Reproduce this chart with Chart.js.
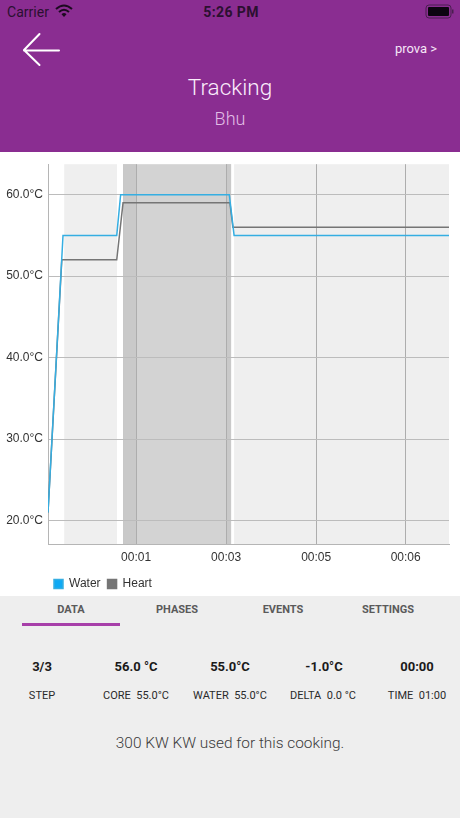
<!DOCTYPE html>
<html>
<head>
<meta charset="utf-8">
<title>Tracking</title>
<script src="https://cdn.jsdelivr.net/npm/chart.js@4"></script>
<style>
    html, body { margin: 0; padding: 0; }
    body { width: 460px; height: 818px; position: relative; overflow: hidden; background: #eeeeee; font-family: Roboto, sans-serif; }
    .t { position: absolute; white-space: pre; line-height: 1; transform: translate(-50%, -50%); }
    #header { position: absolute; left: 0; top: 0; width: 460px; height: 152px; background: #8a2d91; }
    #chart-box { position: absolute; left: 0; top: 152px; width: 460px; height: 444px; background: #fff; }
    #tab-line { position: absolute; left: 22px; top: 623px; width: 98px; height: 3px; background: #a73fa9; }
    .tab { font-size: 11px; font-weight: 700; color: #5a5a5a; top: 609px; }
    .big { font-size: 13px; font-weight: 700; color: #1a1a1a; top: 666px; }
    .small { font-size: 11px; color: #2a2a2a; top: 695px; }
</style>
</head>
<body>
<div id="header">
    <div class="t" style="left:28px;top:12px;font-size:14px;color:#2b1030">Carrier</div>
    <svg style="position:absolute;left:55px;top:4px" width="18" height="14" viewBox="0 0 18 14">
        <path d="M1 5 Q9 -2 17 5" fill="none" stroke="#1c0a20" stroke-width="2"/>
        <path d="M4 8 Q9 3.5 14 8" fill="none" stroke="#1c0a20" stroke-width="2"/>
        <path d="M6.5 10.2 Q9 8 11.5 10.2 L9 13 Z" fill="#1c0a20"/>
    </svg>
    <div class="t" style="left:231px;top:12px;font-size:14px;font-weight:700;color:#2b1030;letter-spacing:.4px">5:26 PM</div>
    <svg style="position:absolute;left:425px;top:4px" width="29" height="15" viewBox="0 0 29 15">
        <rect x="1" y="1" width="25" height="13" rx="3" fill="none" stroke="#4a1f50" stroke-width="1"/>
        <rect x="3" y="3" width="21" height="9" rx="1" fill="#0c0410"/>
        <rect x="27" y="5.5" width="1.5" height="4" fill="#4a1f50"/>
    </svg>
    <svg style="position:absolute;left:20px;top:30px" width="44" height="40" viewBox="0 0 44 40">
        <path d="M19.5 4 L4 20 L19.5 35 M4 20.5 L39 20.5" fill="none" stroke="#fff" stroke-width="2" stroke-linecap="round" stroke-linejoin="round"/>
    </svg>
    <div class="t" style="left:416px;top:48px;font-size:13px;color:#f6e6f7">prova &gt;</div>
    <div class="t" style="left:230px;top:87px;font-size:22.5px;font-weight:300;color:#fbeefc">Tracking</div>
    <div class="t" style="left:230px;top:119px;font-size:18px;font-weight:300;color:#e2bde6">Bhu</div>
</div>
<div id="chart-box"><canvas id="cooking-chart"></canvas></div>
<div class="t tab" style="left:71px">DATA</div>
<div class="t tab" style="left:177px">PHASES</div>
<div class="t tab" style="left:283px">EVENTS</div>
<div class="t tab" style="left:388px">SETTINGS</div>
<div id="tab-line"></div>
<div class="t big" style="left:42px">3/3</div>
<div class="t big" style="left:136px">56.0 °C</div>
<div class="t big" style="left:230px">55.0°C</div>
<div class="t big" style="left:324px">-1.0°C</div>
<div class="t big" style="left:417px">00:00</div>
<div class="t small" style="left:42px">STEP</div>
<div class="t small" style="left:136px">CORE  55.0°C</div>
<div class="t small" style="left:230px">WATER  55.0°C</div>
<div class="t small" style="left:323px">DELTA  0.0 °C</div>
<div class="t small" style="left:417px">TIME  01:00</div>
<div class="t" style="left:230px;top:744px;font-size:15.4px;font-weight:300;color:#3a3a3a">300 KW KW used for this cooking.</div>

<script>
// --- Chart data (x in minutes, y in °C) ---
const waterTimes = [0, 0.25, 1.145, 1.21, 3.02, 3.1, 6.68];
const waterTemps = [21, 55, 55, 60, 60, 55, 55];
const heartTimes = [0, 0.23, 1.145, 1.25, 3.03, 3.08, 6.68];
const heartTemps = [21, 52, 52, 59, 59, 56, 56];

const seriesNames = ['Water', 'Heart'];

const tempTicks = [20, 30, 40, 50, 60];
const timeTicks = [1.467, 2.967, 4.467, 5.958];
const timeTickLabels = ['00:01', '00:03', '00:05', '00:06'];

// phase bands behind the lines
const lightBandStarts = [0.27, 3.1];
const lightBandEnds = [1.15, 6.68];
const darkBandStarts = [1.25];
const darkBandEnds = [3.05];
const overlapBandStarts = [1.25, 2.97];
const overlapBandEnds = [1.467, 3.05];

const toPoints = (xs, ys) => xs.map((x, i) => ({ x: x, y: ys[i] }));

const bandPlugin = {
    id: 'bands',
    beforeDraw(chart) {
        const { ctx, chartArea, scales } = chart;
        const fillBands = (starts, ends, color) => {
            ctx.fillStyle = color;
            starts.forEach((start, i) => {
                const left = scales.x.getPixelForValue(start);
                const right = scales.x.getPixelForValue(ends[i]);
                ctx.fillRect(left, chartArea.top, right - left, chartArea.height);
            });
        };
        ctx.save();
        fillBands(lightBandStarts, lightBandEnds, '#efefef');
        fillBands(darkBandStarts, darkBandEnds, '#d3d3d3');
        fillBands(overlapBandStarts, overlapBandEnds, '#c9c9c9');
        ctx.restore();
    }
};

// legend sits under the plot, lined up near the y axis
const legendPlacePlugin = {
    id: 'legendPlace',
    afterLayout(chart) {
        chart.legend.left = 47;
        chart.legend.top += 4;
    }
};

new Chart(document.getElementById('cooking-chart'), {
    type: 'line',
    data: {
        datasets: [
            {
                label: seriesNames[0],
                data: toPoints(waterTimes, waterTemps),
                borderColor: '#35aee2',
                backgroundColor: '#0ea9f4',
                borderWidth: 1.5,
                pointRadius: 0,
                tension: 0
            },
            {
                label: seriesNames[1],
                data: toPoints(heartTimes, heartTemps),
                borderColor: '#757575',
                backgroundColor: '#757575',
                borderWidth: 1.5,
                pointRadius: 0,
                tension: 0
            }
        ]
    },
    options: {
        responsive: true,
        maintainAspectRatio: false,
        animation: false,
        layout: { padding: { top: 9, right: 11, left: 0, bottom: 0 } },
        plugins: {
            tooltip: { enabled: false },
            legend: {
                position: 'bottom',
                align: 'start',
                labels: {
                    boxWidth: 9,
                    boxHeight: 9,
                    padding: 7,
                    color: '#333',
                    font: { family: 'Liberation Sans', size: 12 }
                }
            }
        },
        scales: {
            x: {
                type: 'linear',
                min: 0,
                max: 6.68,
                afterBuildTicks(axis) { axis.ticks = timeTicks.map(v => ({ value: v })); },
                afterFit(axis) { axis.height = 23; },
                grid: { color: '#adadad', lineWidth: 1, drawTicks: false },
                border: { color: '#b5b5b5', width: 1 },
                ticks: {
                    padding: 6,
                    maxRotation: 0,
                    autoSkip: false,
                    color: '#333',
                    font: { family: 'Liberation Sans', size: 12 },
                    callback: (value, i) => timeTickLabels[i]
                }
            },
            y: {
                min: 17.12,
                max: 63.74,
                afterBuildTicks(axis) { axis.ticks = tempTicks.map(v => ({ value: v })); },
                afterFit(axis) { axis.width = 48; },
                grid: { color: '#bcbcbc', lineWidth: 1, drawTicks: false },
                border: { color: '#b5b5b5', width: 1 },
                ticks: {
                    padding: 5,
                    color: '#333',
                    font: { family: 'Liberation Sans', size: 12 },
                    callback: value => value.toFixed(1) + '°C'
                }
            }
        }
    },
    plugins: [bandPlugin, legendPlacePlugin]
});
</script>
</body>
</html>
